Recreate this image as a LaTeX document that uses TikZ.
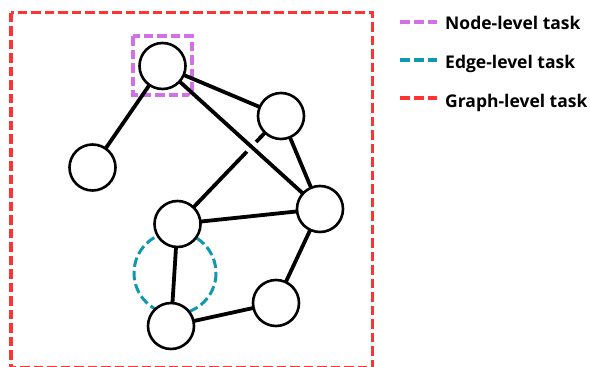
\documentclass[tikz,border=0pt]{standalone}
\usepackage{fontspec}
\setmainfont{Open Sans}
\begin{document}
\begin{tikzpicture}[x=1pt,y=-1pt,
  gnode/.style={circle,draw=black,line width=2.6pt,fill=white,minimum size=46pt,inner sep=0pt},
  link/.style={line width=3.8pt,black},
  bridge/.style={preaction={draw=white,line width=13pt,shorten <=40pt,shorten >=40pt}},
  dashpat/.style={dash pattern=on 9.5pt off 4pt},
  legtext/.style={anchor=base west,inner sep=0pt,font=\fontsize{17.5}{20}\selectfont\bfseries}]
\useasboundingbox (0,0) rectangle (590,367);
\definecolor{taskred}{RGB}{255,51,51}
\definecolor{taskteal}{RGB}{16,152,176}
\definecolor{taskpurple}{RGB}{210,112,232}

% graph-level frame (bottom side runs along the lower page edge)
\draw[taskred,line width=3.4pt,dashpat] (11,12.5) rectangle (372.5,367.8);

% node-level marker
\draw[taskpurple,line width=3.4pt,dashpat] (133,36) rectangle (192,95);

% edge-level marker
\draw[taskteal,line width=3pt,dashpat] (175,273) ellipse (41 and 41);

% node positions
\coordinate (pA) at (162.5,66);
\coordinate (pB) at (281,116);
\coordinate (pC) at (92.5,167.5);
\coordinate (pD) at (320,209);
\coordinate (pE) at (177.5,224);
\coordinate (pF) at (276,303);
\coordinate (pG) at (171,326);

% edges
\draw[link] (pB) -- (pE);
\draw[link,bridge] (pA) -- (pD);
\draw[link] (pA) -- (pC);
\draw[link] (pA) -- (pB);
\draw[link] (pB) -- (pD);
\draw[link] (pE) -- (pD);
\draw[link] (pE) -- (pG);
\draw[link] (pG) -- (pF);
\draw[link] (pF) -- (pD);

% nodes
\foreach \n in {A,B,C,D,E,F,G} \node[gnode] (\n) at (p\n) {};

% legend
\coordinate (l1a) at (400,22); \coordinate (l1b) at (437,22);
\coordinate (l2a) at (400,60); \coordinate (l2b) at (437,60);
\coordinate (l3a) at (400,98); \coordinate (l3b) at (437,98);
\draw[taskpurple,line width=3.4pt,dash pattern=on 10pt off 4pt] (l1a) -- (l1b);
\draw[taskteal,line width=3.4pt,dash pattern=on 10pt off 4pt] (l2a) -- (l2b);
\draw[taskred,line width=3.4pt,dash pattern=on 10pt off 4pt] (l3a) -- (l3b);
\node[legtext] (t1) at (445,29) {Node-level task};
\node[legtext] (t2) at (445,68) {Edge-level task};
\node[legtext] (t3) at (445,107) {Graph-level task};
\end{tikzpicture}
\end{document}
